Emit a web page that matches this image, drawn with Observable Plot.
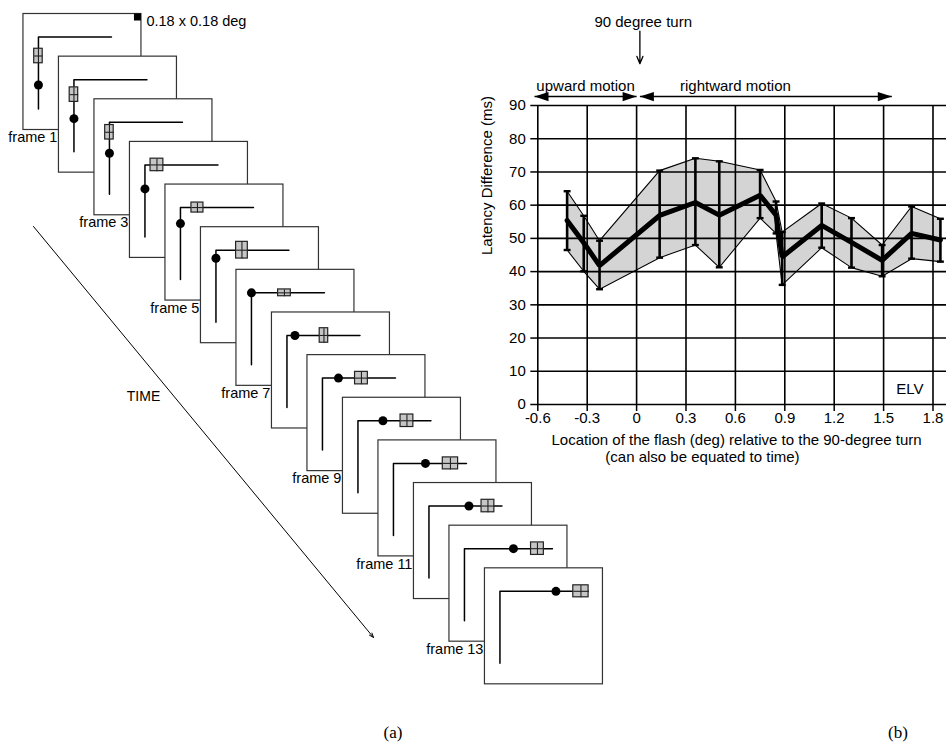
<!DOCTYPE html>
<html><head><meta charset="utf-8">
<script src="https://cdn.jsdelivr.net/npm/d3@7"></script>
<script src="https://cdn.jsdelivr.net/npm/@observablehq/plot@0.6"></script>
<style>
html,body{margin:0;padding:0;background:#fff;}
#fig{position:relative;width:946px;height:744px;overflow:hidden;background:#fff;}
.panel{position:absolute;font-family:"Liberation Serif","Times New Roman",serif;font-size:17px;transform:translate(-50%,-50%);}
</style></head><body>
<div id="fig"></div>
<script>
// ---------- Panel (b) data ----------
const xTicks = [-0.6, -0.3, 0, 0.3, 0.6, 0.9, 1.2, 1.5, 1.8];
const yTicks = [0, 10, 20, 30, 40, 50, 60, 70, 80, 90];
const flashLocation = [-0.422, -0.321, -0.225, 0.140, 0.357, 0.502, 0.750, 0.847, 0.884, 1.124, 1.305, 1.491, 1.670, 1.845];
const meanLatency  = [55.4, 48.7, 41.8, 56.9, 60.8, 57.0, 63.0, 57.0, 44.4, 53.9, 48.8, 43.4, 51.5, 49.5];
const upperLatency = [64.2, 56.8, 49.3, 70.4, 74.1, 73.2, 70.6, 61.1, 51.9, 60.5, 56.1, 48.0, 59.6, 55.9];
const lowerLatency = [46.5, 40.1, 34.7, 44.2, 48.0, 41.3, 56.1, 51.5, 36.0, 47.2, 41.2, 38.6, 43.9, 43.0];
const motionLabels = ["upward motion", "rightward motion"];
const motionStart = [-0.62, 0.02];
const motionEnd = [0.0, 1.55];
const motionLabelX = [-0.31, 0.60];
const turnLocation = 0.02;

// ---------- Panel (a) data ----------
const frameNumbers = [1,2,3,4,5,6,7,8,9,10,11,12,13,14];
const labeledFrames = [1,3,5,7,9,11,13];
const dotPath   = [-48, -39, -31, -24, -16, -8, 0, 8, 16, 25, 32, 40, 49, 56];
const flashPath = [-19, -15, -10, 12, 17, 26, 33, 37, 39, 49, 57, 59, 73, 81];
const trackEnd  = [73, 73, 73, 73, 73, 73, 73, 73, 73, 73, 73, 73, 88, 88];
const flashShape = ["narrow","narrow","narrow","square","flatSq","tall","flat","narrow","square","square","wide","square","square","wide"];

// ---------- layout (styling, not data) ----------
const A = {x0: 22.95, y0: 13.5, stepX: 35.5, stepY: 42.64, boxW: 118, boxH: 116, cornerX: 15, cornerY: 23, trackBottom: 72};
const flashSizes = {narrow:[8.5,14.5], square:[12.8,12.5], flatSq:[12,10], tall:[11.7,16.7], flat:[12.7,6.8], wide:[15.3,12]};
const frameLeft = k => A.x0 + (k - 1) * A.stepX;
const frameTop = k => A.y0 + (k - 1) * A.stepY;
const pathXY = (k, s) => s < 0
  ? {x: frameLeft(k) + A.cornerX, y: frameTop(k) + A.cornerY - s}
  : {x: frameLeft(k) + A.cornerX + s, y: frameTop(k) + A.cornerY};

const fig = document.getElementById("fig");

// ---------- Panel (a) ----------
const marksA = [];
marksA.push(Plot.arrow([0], {x1: 33, y1: 226, x2: 373, y2: 637, stroke: "black", strokeWidth: 1, headLength: 7, headAngle: 40}));
marksA.push(Plot.text(["TIME"], {x: 143, y: 396, text: d => d, fontSize: 14}));
for (const k of frameNumbers) {
  const i = k - 1;
  marksA.push(Plot.rect([k], {x1: d => frameLeft(d), x2: d => frameLeft(d) + A.boxW, y1: d => frameTop(d), y2: d => frameTop(d) + A.boxH, fill: "white", stroke: "#333", strokeWidth: 1.2}));
  const track = [pathXY(k, -A.trackBottom), pathXY(k, 0), pathXY(k, trackEnd[i])];
  marksA.push(Plot.line(track, {x: "x", y: "y", stroke: "black", strokeWidth: 1.5}));
  const f = pathXY(k, flashPath[i]);
  const [w, h] = flashSizes[flashShape[i]];
  marksA.push(Plot.rect([f], {x1: d => d.x - w/2, x2: d => d.x + w/2, y1: d => d.y - h/2, y2: d => d.y + h/2, fill: "#c6c6c6", stroke: "#222", strokeWidth: 1.2}));
  marksA.push(Plot.link([f], {x1: d => d.x - w/2, x2: d => d.x + w/2, y1: "y", y2: "y", stroke: "#222", strokeWidth: 1.1}));
  marksA.push(Plot.link([f], {x1: "x", x2: "x", y1: d => d.y - h/2, y2: d => d.y + h/2, stroke: "#222", strokeWidth: 1.1}));
  marksA.push(Plot.dot([pathXY(k, dotPath[i])], {x: "x", y: "y", r: 4.5, fill: "black"}));
  if (k === 1) {
    marksA.push(Plot.rect([k], {x1: d => frameLeft(d) + A.boxW - 7, x2: d => frameLeft(d) + A.boxW, y1: d => frameTop(d), y2: d => frameTop(d) + 7, fill: "black"}));
    marksA.push(Plot.text(["0.18 x 0.18 deg"], {x: frameLeft(1) + A.boxW + 5, y: frameTop(1) + 7.5, text: d => d, textAnchor: "start"}));
  }
}
marksA.push(Plot.text(labeledFrames, {x: k => frameLeft(k + 1) - 1.5, y: k => frameTop(k) + A.boxH + 7.5, text: k => "frame " + k, textAnchor: "end"}));

const plotA = Plot.plot({
  width: 620, height: 744, margin: 0,
  x: {domain: [0, 620], range: [0, 620], axis: null},
  y: {domain: [0, 744], range: [0, 744], axis: null},
  style: {position: "absolute", left: "0px", top: "0px", background: "none", fontFamily: "'Liberation Sans', Arial, sans-serif", fontSize: "14.5px", color: "black", overflow: "visible"},
  marks: marksA
});
fig.appendChild(plotA);

// ---------- Panel (b) ----------
const rows = flashLocation.map((x, i) => ({x, mean: meanLatency[i], lo: lowerLatency[i], hi: upperLatency[i]}));
const capSymbol = {draw(ctx, size) { const w = Math.sqrt(size); ctx.moveTo(-w/2, 0); ctx.lineTo(w/2, 0); }};
const headSymbol = {draw(ctx, size) { const L = Math.sqrt(size); ctx.moveTo(0, 0); ctx.lineTo(-L, -L*0.33); ctx.lineTo(-L, L*0.33); ctx.closePath(); }};
const motion = motionLabels.map((t, i) => ({t, x1: motionStart[i], x2: motionEnd[i], lx: motionLabelX[i]}));
const heads = motion.flatMap(m => [{x: m.x1, dir: 180}, {x: m.x2, dir: 0}]);
const arrowY = 92.7;

const plotB = Plot.plot({
  width: 506, height: 480,
  marginLeft: 97.3, marginRight: 0, marginTop: 105, marginBottom: 76,
  x: {domain: [-0.6, 1.882]},
  y: {domain: [0, 90]},
  style: {position: "absolute", left: "440px", top: "0px", background: "none", fontFamily: "'Liberation Sans', Arial, sans-serif", fontSize: "15px", color: "black", overflow: "visible"},
  marks: [
    Plot.areaY(rows, {x: "x", y1: "lo", y2: "hi", fill: "#d4d4d4"}),
    Plot.gridX(xTicks, {stroke: "black", strokeOpacity: 1, strokeWidth: 1.6}),
    Plot.gridY(yTicks, {stroke: "black", strokeOpacity: 1, strokeWidth: 1.6}),
    Plot.line(rows, {x: "x", y: "hi", stroke: "black", strokeWidth: 1.1}),
    Plot.line(rows, {x: "x", y: "lo", stroke: "black", strokeWidth: 1.1}),
    Plot.ruleX(rows, {x: "x", y1: "lo", y2: "hi", stroke: "black", strokeWidth: 2.6}),
    Plot.dot(rows, {x: "x", y: "hi", symbol: capSymbol, r: 3.9, fill: "none", stroke: "black", strokeWidth: 2.4}),
    Plot.dot(rows, {x: "x", y: "lo", symbol: capSymbol, r: 3.9, fill: "none", stroke: "black", strokeWidth: 2.4}),
    Plot.line(rows, {x: "x", y: "mean", stroke: "black", strokeWidth: 5, strokeLinejoin: "miter"}),
    Plot.axisX(xTicks, {tickSize: 7, tickPadding: 1, strokeWidth: 1.5, tickFormat: d => String(d), label: null}),
    Plot.axisY(yTicks, {tickSize: 7, tickPadding: 5, strokeWidth: 1.5, tickFormat: d => String(d), label: null}),
    Plot.text(["Latency Difference (ms)"], {frameAnchor: "left", dx: -51, rotate: -90, text: d => d}),
    Plot.text(["Location of the flash (deg) relative to the 90-degree turn"], {x: 0.607, frameAnchor: "bottom", dy: 40, text: d => d}),
    Plot.text(["(can also be equated to time)"], {x: 0.40, frameAnchor: "bottom", dy: 57.5, text: d => d}),
    Plot.text(["ELV"], {x: 1.66, y: 4.5, text: d => d}),
    // motion annotations
    Plot.link(motion, {x1: "x1", x2: "x2", y1: arrowY, y2: arrowY, stroke: "black", strokeWidth: 1.6}),
    Plot.dot(heads, {x: "x", y: arrowY, rotate: "dir", symbol: headSymbol, r: 7.9, fill: "black", stroke: "none"}),
    Plot.text(motion, {x: "lx", y: 95.8, text: "t"}),
    Plot.text(["90 degree turn"], {x: 0.04, y: 115.1, text: d => d}),
    Plot.arrow([0], {x1: turnLocation, x2: turnLocation, y1: 112.4, y2: 102.6, stroke: "black", strokeWidth: 1.3, headLength: 9, headAngle: 45})
  ]
});
fig.appendChild(plotB);

// panel labels
for (const [t, x] of [["(a)", 393], ["(b)", 898]]) {
  const s = document.createElement("div");
  s.className = "panel"; s.textContent = t;
  s.style.left = x + "px"; s.style.top = "733px";
  fig.appendChild(s);
}
</script>
</body></html>
